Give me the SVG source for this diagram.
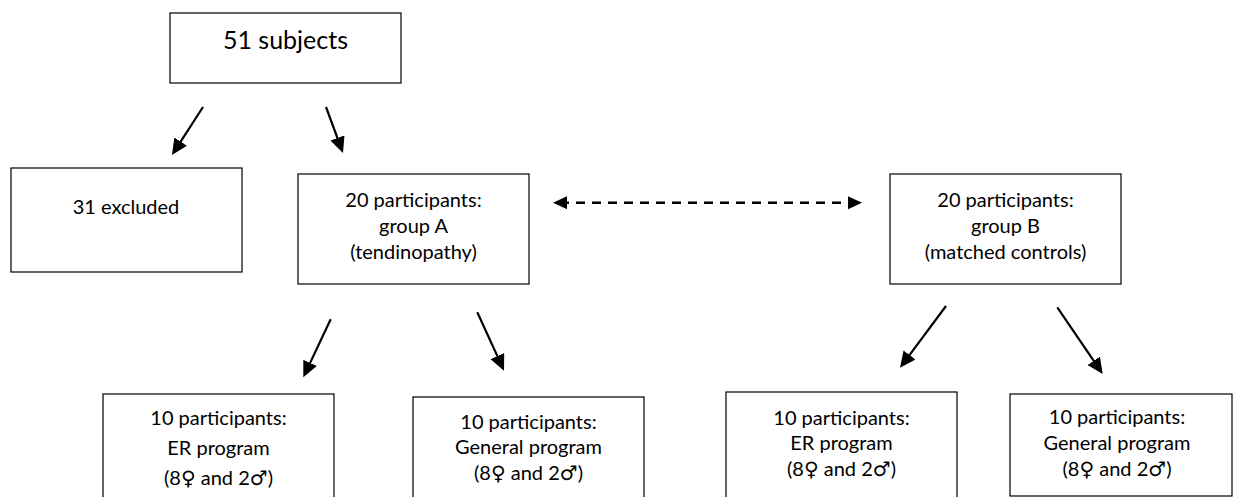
<svg xmlns="http://www.w3.org/2000/svg" width="1235" height="497" viewBox="0 0 1235 497">
  <style>
    .box { fill: #ffffff; stroke: #000000; stroke-width: 1.2; }
    .t { font-family: Lato, "DejaVu Sans", sans-serif; font-size: 20px; fill: #000000; text-anchor: middle; }
    .big { font-size: 25px; }
    .arr { stroke: #000000; stroke-width: 2.2; fill: none; marker-end: url(#head); }
    .dash { stroke: #000000; stroke-width: 2.6; fill: none; stroke-dasharray: 9 7; marker-start: url(#dhead); marker-end: url(#dhead); }
  </style>
  <defs>
    <marker id="head" markerUnits="userSpaceOnUse" markerWidth="18" markerHeight="16" refX="8" refY="7.5" orient="auto">
      <path d="M0,0 L16,7.5 L0,15 z" fill="#000000"/>
    </marker>
    <marker id="dhead" markerUnits="userSpaceOnUse" markerWidth="16" markerHeight="14" refX="7" refY="6.5" orient="auto-start-reverse">
      <path d="M0,0 L14,6.5 L0,13 z" fill="#000000"/>
    </marker>
  </defs>
  <rect width="1235" height="497" fill="#ffffff"/>

  <g id="connectors">
    <line class="arr" x1="203" y1="107" x2="176.3" y2="148.3"/>
    <line class="arr" x1="326" y1="107" x2="340.2" y2="145.5"/>
    <line class="dash" x1="560" y1="202.7" x2="855" y2="202.7"/>
    <line class="arr" x1="330.7" y1="319.3" x2="306.7" y2="370.1"/>
    <line class="arr" x1="477.3" y1="312.3" x2="500.7" y2="363.4"/>
    <line class="arr" x1="946" y1="306" x2="904.8" y2="361.3"/>
    <line class="arr" x1="1057.3" y1="307.3" x2="1098.2" y2="367.4"/>
  </g>

  <g id="subjects">
    <rect class="box" x="170" y="13" width="231" height="70"/>
    <text class="t big" x="285.5" y="49">51 subjects</text>
  </g>

  <g id="excluded">
    <rect class="box" x="11" y="168" width="231" height="104"/>
    <text class="t" x="126" y="214">31 excluded</text>
  </g>

  <g id="groupA">
    <rect class="box" x="298" y="174" width="231" height="110"/>
    <text class="t" x="413.5" y="207">20 participants:</text>
    <text class="t" x="413.5" y="233">group A</text>
    <text class="t" x="413.5" y="259">(tendinopathy)</text>
  </g>

  <g id="groupB">
    <rect class="box" x="890" y="174" width="231" height="110"/>
    <text class="t" x="1005.5" y="207">20 participants:</text>
    <text class="t" x="1005.5" y="233">group B</text>
    <text class="t" x="1005.5" y="259">(matched controls)</text>
  </g>

  <g id="erA">
    <rect class="box" x="103" y="394" width="231" height="120"/>
    <text class="t" x="218.5" y="425">10 participants:</text>
    <text class="t" x="218.5" y="455">ER program</text>
    <text class="t" x="218.5" y="485">(8♀ and 2♂)</text>
  </g>

  <g id="generalA">
    <rect class="box" x="413" y="397" width="231" height="120"/>
    <text class="t" x="528.5" y="429">10 participants:</text>
    <text class="t" x="528.5" y="454">General program</text>
    <text class="t" x="528.5" y="480">(8♀ and 2♂)</text>
  </g>

  <g id="erB">
    <rect class="box" x="726" y="392" width="231" height="120"/>
    <text class="t" x="841.5" y="425">10 participants:</text>
    <text class="t" x="841.5" y="450">ER program</text>
    <text class="t" x="841.5" y="476">(8♀ and 2♂)</text>
  </g>

  <g id="generalB">
    <rect class="box" x="1010" y="394" width="222" height="102"/>
    <text class="t" x="1117" y="424">10 participants:</text>
    <text class="t" x="1117" y="450">General program</text>
    <text class="t" x="1117" y="476">(8♀ and 2♂)</text>
  </g>
</svg>
